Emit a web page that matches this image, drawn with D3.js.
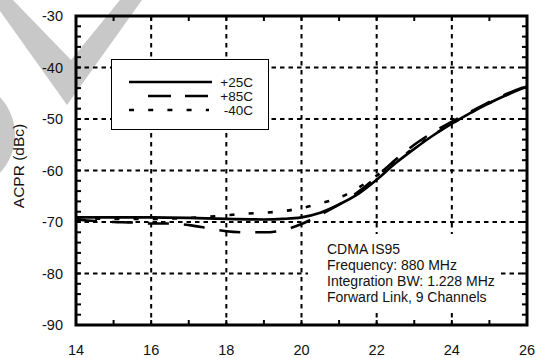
<!DOCTYPE html>
<html><head><meta charset="utf-8">
<script src="https://cdn.jsdelivr.net/npm/d3@7"></script>
<style>body{margin:0;background:#fff}svg{display:block;font-family:"Liberation Sans",Arial,Helvetica,sans-serif}</style>
</head><body><svg id="c" width="538" height="358"></svg>
<script>
// ---- data ----
const xTicks = [14,16,18,20,22,24,26];
const yTicks = [-30,-40,-50,-60,-70,-80,-90];
const seriesNames = ["+25C","+85C","-40C"];
const x25 = [14,15,16,17,18,19,19.5,20,20.5,21,21.5,22,22.5,23,23.5,24,24.5,25,25.5,26];
const y25 = [-69.1,-69.1,-69.1,-69.2,-69.4,-69.5,-69.4,-69.1,-68.2,-66.6,-64.6,-61.8,-58.6,-55.8,-53.2,-50.9,-48.8,-46.9,-45.2,-43.7];
const x85 = [14,14.5,15,15.5,16,16.5,17,17.5,18,18.5,19,19.5,20,20.5,21,21.5,22,22.5,23,23.5,24,24.5,25,25.5,26];
const y85 = [-69.5,-69.8,-70.0,-70.1,-70.3,-70.3,-70.6,-71.2,-71.8,-72.0,-72.0,-71.6,-70.4,-68.6,-66.6,-64.2,-61.2,-57.9,-55.0,-52.6,-50.5,-48.6,-46.7,-45.0,-43.6];
const x40 = [14,15,16,17,17.5,18,18.5,19,19.5,20,20.5,21,21.5,22,22.5,23,23.5,24,24.5,25,25.5,26];
const y40 = [-69.3,-69.4,-69.4,-69.2,-69.0,-68.7,-68.4,-68.2,-67.9,-67.3,-66.4,-65.3,-63.4,-61.0,-58.3,-55.6,-53.1,-50.9,-48.8,-46.9,-45.2,-43.7];
const noteLines = ["CDMA IS95","Frequency: 880 MHz","Integration BW: 1.228 MHz","Forward Link, 9 Channels"];
const yTitle = "ACPR (dBc)";

// ---- layout ----
const L=76, R=527, T=16, B=325;
const svg = d3.select("#c");
const x = d3.scaleLinear().domain([14,26]).range([L,R]);
const y = d3.scaleLinear().domain([-90,-30]).range([B,T]);

// watermark
svg.append("path").attr("fill","#c8c8c8")
  .attr("d","M0,0L13,0L71,60L120,0L142,0L67,105L0,11Z");
svg.append("ellipse").attr("fill","#c8c8c8").attr("cx",-40).attr("cy",135).attr("rx",55).attr("ry",55);

// grid
const g = svg.append("g").attr("stroke","#000").attr("stroke-width",2);
xTicks.slice(1,-1).forEach(v=>{
  g.append("line").attr("x1",x(v)).attr("x2",x(v)).attr("y1",T).attr("y2",B).attr("stroke-dasharray","4.5,4.5");
});
yTicks.slice(1,-1).forEach(v=>{
  g.append("line").attr("y1",y(v)).attr("y2",y(v)).attr("x1",L).attr("x2",R).attr("stroke-dasharray","4.5,4");
});

// minor ticks (inside)
const tk = svg.append("g").attr("stroke","#000").attr("stroke-width",2);
d3.range(-88,-30,2).forEach(v=>{
  tk.append("line").attr("x1",L).attr("x2",L+5).attr("y1",y(v)).attr("y2",y(v));
  tk.append("line").attr("x1",R).attr("x2",R-5).attr("y1",y(v)).attr("y2",y(v));
});
d3.range(15,26,1).forEach(v=>{
  tk.append("line").attr("y1",B).attr("y2",B-5).attr("x1",x(v)).attr("x2",x(v));
  tk.append("line").attr("y1",T).attr("y2",T+5).attr("x1",x(v)).attr("x2",x(v));
});

// note box
const nb = svg.append("g");
nb.append("rect").attr("x",308).attr("y",234).attr("width",192).attr("height",76).attr("fill","#fff");
noteLines.forEach((t,i)=>{
  nb.append("text").attr("x",327).attr("y",254+i*16).attr("font-size",14).attr("fill","#111").text(t);
});

// legend
const lg = svg.append("g");
lg.append("rect").attr("x",111.5).attr("y",59.5).attr("width",157).attr("height",70).attr("fill","#fff").attr("stroke","#000").attr("stroke-width",1);
const styles = [
  {dash:null, x1:129, x2:212},
  {dash:"23,14", x1:148, x2:209},
  {dash:"5,14.2", x1:129, x2:209}
];
seriesNames.forEach((n,i)=>{
  const yy = 82+i*14;
  lg.append("line").attr("x1",styles[i].x1).attr("x2",styles[i].x2).attr("y1",yy).attr("y2",yy)
    .attr("stroke","#000").attr("stroke-width",2.6).attr("stroke-dasharray",styles[i].dash);
  lg.append("text").attr("x",253).attr("y",yy+4.5).attr("text-anchor","end").attr("font-size",13.5).attr("fill","#111").text(n);
});

// curves
const line = d3.line().x(d=>x(d[0])).y(d=>y(d[1])).curve(d3.curveMonotoneX);
const cg = svg.append("g").attr("fill","none").attr("stroke","#000").attr("stroke-width",2.6);
cg.append("path").attr("d",line(d3.zip(x40,y40))).attr("stroke-dasharray","5,14.2");
cg.append("path").attr("d",line(d3.zip(x85,y85))).attr("stroke-dasharray","21,15");
cg.append("path").attr("d",line(d3.zip(x25,y25)));

// frame
svg.append("rect").attr("x",L).attr("y",T).attr("width",R-L).attr("height",B-T)
  .attr("fill","none").attr("stroke","#000").attr("stroke-width",3);

// axes labels
const ax = svg.append("g").attr("font-size",14.5).attr("fill","#111");
yTicks.forEach(v=>{
  ax.append("text").attr("x",63).attr("y",y(v)+5).attr("text-anchor","end").text(String(v));
});
xTicks.forEach(v=>{
  ax.append("text").attr("x",x(v)).attr("y",355).attr("text-anchor","middle").text(String(v));
});
svg.append("text").attr("transform","translate(24,166) rotate(-90)").attr("text-anchor","middle")
  .attr("font-size",15.5).attr("fill","#111").text(yTitle);
</script></body></html>
